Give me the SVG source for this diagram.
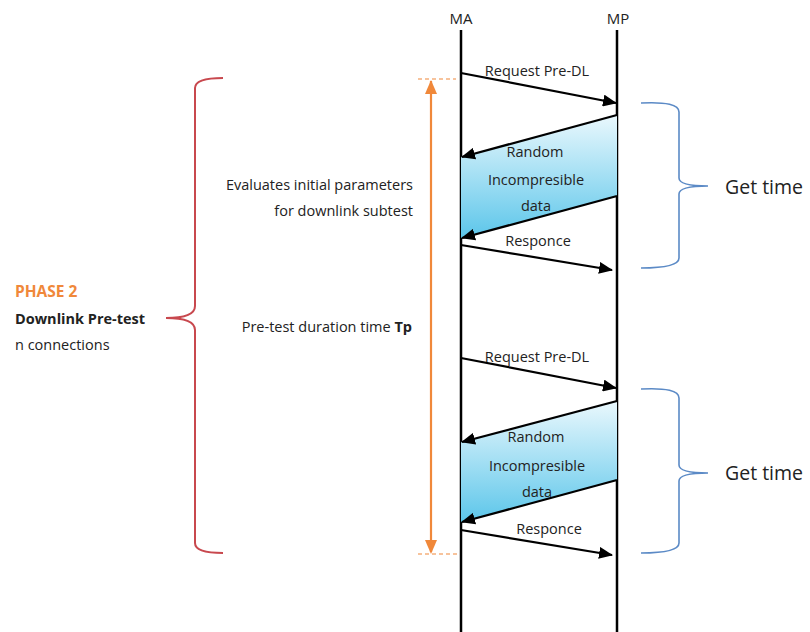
<svg xmlns="http://www.w3.org/2000/svg" width="810" height="632" viewBox="0 0 810 632">
<style>
text{font-family:"Open Sans","Liberation Sans",Arial,sans-serif;fill:#222}
.lbl{font-size:14.5px}
.msg{stroke:#000;stroke-width:2.2;fill:none}
.life{stroke:#000;stroke-width:2.5}
.bb{stroke:#5b8ac6;stroke-width:1.6;fill:none}
</style>
<defs>
<marker id="ah" markerWidth="14" markerHeight="12" refX="13" refY="6" orient="auto" markerUnits="userSpaceOnUse">
<path d="M0,0 L14,6 L0,12 Z" fill="#000"/>
</marker>
<linearGradient id="g" x1="0" y1="0" x2="0" y2="1">
<stop offset="0" stop-color="#eaf8fd"/>
<stop offset="1" stop-color="#5cc6ea"/>
</linearGradient>
</defs>
<g id="lifelines">
<line class="life" x1="461" y1="30" x2="461" y2="632"/>
<line class="life" x1="617" y1="30" x2="617" y2="632"/>
<text x="461" y="24" font-size="15" text-anchor="middle">MA</text>
<text x="618" y="24" font-size="15" text-anchor="middle">MP</text>
</g>
<g id="data1">
<polygon points="617,115 461,157 461,238 617,196" fill="url(#g)"/>
<text x="535" y="157" class="lbl" text-anchor="middle">Random</text>
<text x="536" y="185" class="lbl" text-anchor="middle">Incompresible</text>
<text x="536" y="211" class="lbl" text-anchor="middle">data</text>
</g>
<g id="data2">
<polygon points="617,401 461,442 461,522 617,480" fill="url(#g)"/>
<text x="536" y="442" class="lbl" text-anchor="middle">Random</text>
<text x="537" y="471" class="lbl" text-anchor="middle">Incompresible</text>
<text x="537" y="497" class="lbl" text-anchor="middle">data</text>
</g>
<g id="connectors">
<line class="msg" x1="461" y1="73" x2="616" y2="103" marker-end="url(#ah)"/>
<line class="msg" x1="617" y1="115" x2="462" y2="157" marker-end="url(#ah)"/>
<line class="msg" x1="617" y1="196" x2="462" y2="238" marker-end="url(#ah)"/>
<line class="msg" x1="461" y1="245" x2="612" y2="270" marker-end="url(#ah)"/>
<line class="msg" x1="461" y1="358" x2="616" y2="388" marker-end="url(#ah)"/>
<line class="msg" x1="617" y1="401" x2="462" y2="442" marker-end="url(#ah)"/>
<line class="msg" x1="617" y1="480" x2="462" y2="522" marker-end="url(#ah)"/>
<line class="msg" x1="461" y1="530" x2="612" y2="555" marker-end="url(#ah)"/>
</g>
<g id="msglabels">
<text x="537" y="76" class="lbl" text-anchor="middle">Request Pre-DL</text>
<text x="538" y="246" class="lbl" text-anchor="middle">Responce</text>
<text x="537" y="362" class="lbl" text-anchor="middle">Request Pre-DL</text>
<text x="549" y="534" class="lbl" text-anchor="middle">Responce</text>
</g>
<g id="duration">
<line x1="418" y1="79" x2="456" y2="79" stroke="#f0883a" stroke-width="1.2" stroke-dasharray="4,3"/>
<line x1="418" y1="554" x2="457" y2="554" stroke="#f0883a" stroke-width="1.2" stroke-dasharray="4,3"/>
<line x1="431" y1="81" x2="431" y2="552" stroke="#f0883a" stroke-width="2.2"/>
<path d="M425,94 L431,80 L437,94 Z" fill="#f0883a"/>
<path d="M425,540 L431,554 L437,540 Z" fill="#f0883a"/>
<text x="413" y="190" class="lbl" text-anchor="end">Evaluates initial parameters</text>
<text x="413" y="216" class="lbl" text-anchor="end">for downlink subtest</text>
<text x="412" y="332" class="lbl" text-anchor="end">Pre-test duration time <tspan font-weight="bold">Tp</tspan></text>
</g>
<g id="phase">
<path d="M223,78 Q195,78 195,88 L195,306 Q195,318 166,318 Q195,318 195,330 L195,543 Q195,553 223,553" fill="none" stroke="#c8484e" stroke-width="2"/>
<text x="15" y="297" font-size="15.5" font-weight="bold" style="fill:#f0883a">PHASE 2</text>
<text x="15" y="324" class="lbl" font-weight="bold">Downlink Pre-test</text>
<text x="15" y="350" class="lbl">n connections</text>
</g>
<g id="gettime1">
<path class="bb" d="M641,103 Q679,101 679,112 L679,178 Q679,186 708,186 Q679,186 679,194 L679,258 Q679,268 641,268"/>
<text x="725" y="194" font-size="19.5">Get time</text>
</g>
<g id="gettime2">
<path class="bb" d="M641,389 Q679,387 679,398 L679,465 Q679,473 708,473 Q679,473 679,481 L679,543 Q679,553 641,553"/>
<text x="725" y="480" font-size="19.5">Get time</text>
</g>
</svg>
